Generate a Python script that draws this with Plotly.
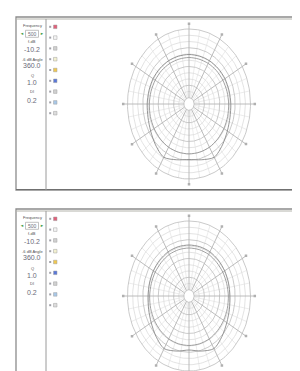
import numpy as np
import plotly.graph_objects as go

W, H = 300, 371

# ---------------- data ----------------
theta_deg = [0, 15, 30, 45, 60, 75, 90, 105, 120, 135, 150, 165, 180,
             195, 210, 225, 240, 255, 270, 285, 300, 315, 330, 345, 360]
# normalised radius (outer ring = 1.0)
top_curve_a = [0.66, 0.66, 0.665, 0.67, 0.675, 0.675, 0.68, 0.69, 0.72, 0.77, 0.82, 0.77, 0.74,
               0.77, 0.82, 0.77, 0.72, 0.69, 0.68, 0.675, 0.675, 0.67, 0.665, 0.66, 0.66]
top_curve_b = [0.62, 0.62, 0.625, 0.63, 0.635, 0.64, 0.645, 0.65, 0.655, 0.66, 0.665, 0.665, 0.665,
               0.665, 0.665, 0.66, 0.655, 0.65, 0.645, 0.64, 0.635, 0.63, 0.625, 0.62, 0.62]
bot_curve_a = [0.68, 0.68, 0.68, 0.675, 0.67, 0.665, 0.665, 0.68, 0.71, 0.76, 0.81, 0.76, 0.72,
               0.76, 0.81, 0.76, 0.71, 0.68, 0.665, 0.665, 0.67, 0.675, 0.68, 0.68, 0.68]
bot_curve_b = [0.64, 0.64, 0.64, 0.635, 0.635, 0.635, 0.64, 0.645, 0.65, 0.655, 0.66, 0.66, 0.66,
               0.66, 0.66, 0.655, 0.65, 0.645, 0.64, 0.635, 0.635, 0.635, 0.64, 0.64, 0.64]

ring_levels = [1/12, 2/12, 3/12, 4/12, 5/12, 6/12, 7/12, 8/12, 9/12, 10/12, 11/12, 1.0]
major_spokes = [0, 30, 60, 90, 120, 150, 180, 210, 240, 270, 300, 330]
minor_spokes = [10, 20, 40, 50, 70, 80, 100, 110, 130, 140, 160, 170,
                190, 200, 220, 230, 250, 260, 280, 290, 310, 320, 340, 350]

side_labels = ["Frequency", "f-dB", "-6 dB Angle", "Q", "DI"]
side_values = ["500", "-10.2", "360.0", "1.0", "0.2"]
check_colors = ["#e0607a", "#f4f4f4", "#d0d0d0", "#f2f0d0", "#f0c850",
                "#5a78d8", "#d0d0d0", "#a8c8e8", "#dcdcdc"]

# ---------------- helpers ----------------
def px(x):
    return x / W

def py(y):
    return 1 - y / H

FONT = "Liberation Sans"
fig = go.Figure()
shapes = []
annotations = []

RX, RY = 61.5, 75.0
HALF = 1.1
panels = [
    dict(oy=0, cx=181, cy=96, a=top_curve_a, b=top_curve_b, xa="x", ya="y"),
    dict(oy=192, cx=181, cy=288, a=bot_curve_a, b=bot_curve_b, xa="x2", ya="y2"),
]

th_fine = np.linspace(0, 2 * np.pi, 181)

for i, p in enumerate(panels):
    xa, ya = p["xa"], p["ya"]
    # minor spokes
    for a in minor_spokes:
        t = np.deg2rad(a)
        fig.add_trace(go.Scatter(x=[ring_levels[0] * np.sin(t), np.sin(t)],
                                 y=[ring_levels[0] * np.cos(t), np.cos(t)], mode="lines",
                                 line=dict(color="#e4e4e4", width=0.7), hoverinfo="skip",
                                 showlegend=False, xaxis=xa, yaxis=ya))
    # rings
    for k, r in enumerate(ring_levels):
        col = "#bdbdbd" if (k + 1) % 3 == 0 or k == 0 else "#dcdcdc"
        fig.add_trace(go.Scatter(x=r * np.sin(th_fine), y=r * np.cos(th_fine), mode="lines",
                                 line=dict(color=col, width=0.8), hoverinfo="skip",
                                 showlegend=False, xaxis=xa, yaxis=ya))
    # major spokes
    for a in major_spokes:
        t = np.deg2rad(a)
        fig.add_trace(go.Scatter(x=[ring_levels[0] * np.sin(t), 1.06 * np.sin(t)],
                                 y=[ring_levels[0] * np.cos(t), 1.06 * np.cos(t)], mode="lines",
                                 line=dict(color="#b4b4b4", width=0.9), hoverinfo="skip",
                                 showlegend=False, xaxis=xa, yaxis=ya))
    fig.add_trace(go.Scatter(x=[1.07 * np.sin(np.deg2rad(a)) for a in major_spokes],
                             y=[1.07 * np.cos(np.deg2rad(a)) for a in major_spokes],
                             mode="markers", marker=dict(color="#b0b0b0", size=2.5, symbol="square"),
                             hoverinfo="skip", showlegend=False, xaxis=xa, yaxis=ya))
    # response curves
    for curve, col in ((p["a"], "#8a8a8a"), (p["b"], "#969696")):
        t = np.deg2rad(theta_deg)
        r = np.array(curve)
        fig.add_trace(go.Scatter(x=r * np.sin(t), y=r * np.cos(t), mode="lines",
                                 line=dict(color=col, width=0.9, shape="spline", smoothing=0.8),
                                 hoverinfo="skip", showlegend=False, xaxis=xa, yaxis=ya))

    oy = p["oy"]
    # panel frame
    y0 = 9 + oy
    y1 = 182 + oy
    shapes.append(dict(type="rect", xref="paper", yref="paper", x0=px(8), x1=px(302),
                       y0=py(y1), y1=py(y0), line=dict(color="#8c8c8c", width=1.3),
                       fillcolor="white", layer="below"))
    shapes.append(dict(type="line", xref="paper", yref="paper", x0=px(8), x1=px(302),
                       y0=py(y0 + 2), y1=py(y0 + 2), line=dict(color="#b4b4ac", width=1),
                       layer="below"))
    shapes.append(dict(type="line", xref="paper", yref="paper", x0=px(8), x1=px(302),
                       y0=py(y1 - 0.5), y1=py(y1 - 0.5), line=dict(color="#707070", width=1.2),
                       layer="below"))
    shapes.append(dict(type="line", xref="paper", yref="paper", x0=px(38), x1=px(38),
                       y0=py(y1), y1=py(y0 + 2), line=dict(color="#9a9a9a", width=1),
                       layer="below"))
    # side labels
    label_y = [17.3, 33, 51.5, 68, 83.5]
    value_y = [25.7, 41.7, 57.5, 75, 92.7]
    for lab, yy in zip(side_labels, label_y):
        annotations.append(dict(text=lab, x=px(24), y=py(yy + oy), xref="paper", yref="paper",
                                xanchor="center", yanchor="middle", showarrow=False,
                                font=dict(size=4, color="#505050", family=FONT)))
    for j, (val, yy) in enumerate(zip(side_values, value_y)):
        size = 5 if j == 0 else 7
        annotations.append(dict(text=val, x=px(24), y=py(yy + oy), xref="paper", yref="paper",
                                xanchor="center", yanchor="middle", showarrow=False,
                                font=dict(size=size, color="#6a6a78", family=FONT)))
    # frequency box and arrows
    shapes.append(dict(type="rect", xref="paper", yref="paper", x0=px(17.5), x1=px(30.5),
                       y0=py(29.3 + oy), y1=py(22.3 + oy), line=dict(color="#a8a8a8", width=0.7)))
    annotations.append(dict(text="\u25c4", x=px(13.5), y=py(25.7 + oy), xref="paper", yref="paper",
                            xanchor="center", yanchor="middle", showarrow=False,
                            font=dict(size=4, color="#3a9a3a")))
    annotations.append(dict(text="\u25ba", x=px(33.5), y=py(25.7 + oy), xref="paper", yref="paper",
                            xanchor="center", yanchor="middle", showarrow=False,
                            font=dict(size=4, color="#3a9a3a")))
    # checkbox list
    for j, c in enumerate(check_colors):
        yy = 18.8 + 10.8 * j + oy
        shapes.append(dict(type="rect", xref="paper", yref="paper", x0=px(41.2), x1=px(43.2),
                           y0=py(yy + 1.0), y1=py(yy - 1.0), line=dict(width=0),
                           fillcolor="#a0a0a8"))
        shapes.append(dict(type="rect", xref="paper", yref="paper", x0=px(45.5), x1=px(49),
                           y0=py(yy + 1.8), y1=py(yy - 1.8), line=dict(color="#a0a0a0", width=0.5),
                           fillcolor=c))

# axes
def xdom(cx):
    return [px(cx - RX * HALF), px(cx + RX * HALF)]

def ydom(cy):
    return [py(cy + RY * HALF), py(cy - RY * HALF)]

ax_common = dict(visible=False, range=[-HALF, HALF], fixedrange=True)
fig.update_layout(
    width=W, height=H,
    margin=dict(l=0, r=0, t=0, b=0),
    paper_bgcolor="white", plot_bgcolor="rgba(0,0,0,0)",
    xaxis=dict(domain=xdom(181), anchor="y", **ax_common),
    yaxis=dict(domain=ydom(96), anchor="x", **ax_common),
    xaxis2=dict(domain=xdom(181), anchor="y2", **ax_common),
    yaxis2=dict(domain=ydom(288), anchor="x2", **ax_common),
    shapes=shapes, annotations=annotations, showlegend=False,
)

fig.write_html("out.html")
